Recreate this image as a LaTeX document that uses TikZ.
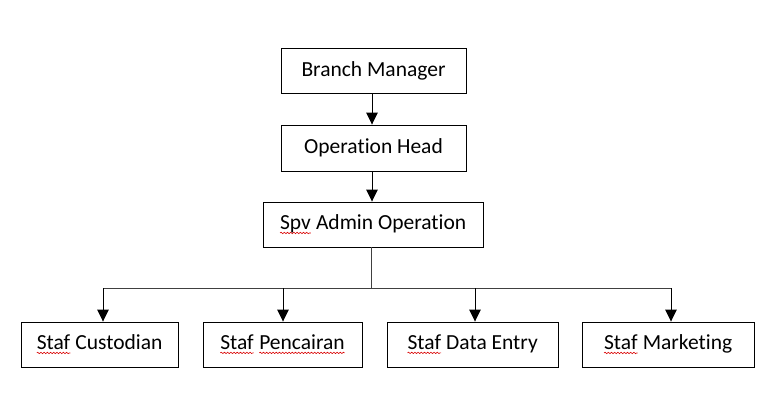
\documentclass[tikz,border=0pt]{standalone}
\usepackage{fontspec}
\setmainfont{Carlito}[Ligatures=NoCommon]
\usetikzlibrary{arrows.meta,decorations.pathmorphing}
\newcommand\sqw[1]{\tikz[baseline=(sqwtext.base)]{\node[draw=none,minimum width=0pt,minimum height=0pt,inner sep=0pt,outer sep=0pt,anchor=base] (sqwtext) {#1};\draw[red!85!black,line width=0.6pt,decorate,decoration={snake,amplitude=0.7pt,segment length=3.2pt}] ([yshift=-3pt]sqwtext.base west) -- ([yshift=-3pt]sqwtext.base east);}}
\tikzset{
  box/.style={draw=black,line width=0.9pt,minimum height=45pt,inner sep=0pt,font=\fontsize{21.5}{24}\selectfont},
  arr/.style={draw=black,line width=0.9pt,-{Triangle[width=11.5pt,length=12pt]}},
  ln/.style={draw=black!75,line width=0.9pt}
}
\begin{document}
\begin{tikzpicture}[x=1pt,y=-1pt]
\useasboundingbox (0,0) rectangle (772,415);
\node[box,minimum width=185pt] (bm) at (373.5,71) {Branch Manager};
\node[box,minimum width=185pt,minimum height=46pt] (oh) at (373.5,148) {Operation Head};
\node[box,minimum width=220pt] (spv) at (373,224.5) {\sqw{Spv} Admin Operation};
\node[box,minimum width=157pt] (cust) at (99.5,344.5) {\sqw{Staf} Custodian};
\node[box,minimum width=159pt] (penc) at (282.5,344.5) {\sqw{Staf} \sqw{Pencairan}};
\node[box,minimum width=171pt] (data) at (472.5,344.5) {\sqw{Staf} Data Entry};
\node[box,minimum width=172pt] (mkt) at (668,344.5) {\sqw{Staf} Marketing};
\coordinate (jn) at (371,288);
\coordinate (j1) at (103,288);
\coordinate (j2) at (283,288);
\coordinate (j3) at (475,288);
\coordinate (j4) at (671,288);
\draw[arr] ([xshift=-1.5pt]bm.south) -- ([xshift=-1.5pt]oh.north);
\draw[arr] ([xshift=-1.5pt]oh.south) -- ([xshift=-1.5pt]oh.south |- spv.north);
\draw[ln] ([xshift=-2pt]spv.south) -- (jn);
\draw[ln] (jn) -- (j1);
\draw[ln] (jn) -- (j4);
\draw[arr] (j1) -- (j1 |- cust.north);
\draw[arr] (j2) -- (j2 |- penc.north);
\draw[arr] (j3) -- (j3 |- data.north);
\draw[arr] (j4) -- (j4 |- mkt.north);
\end{tikzpicture}
\end{document}
